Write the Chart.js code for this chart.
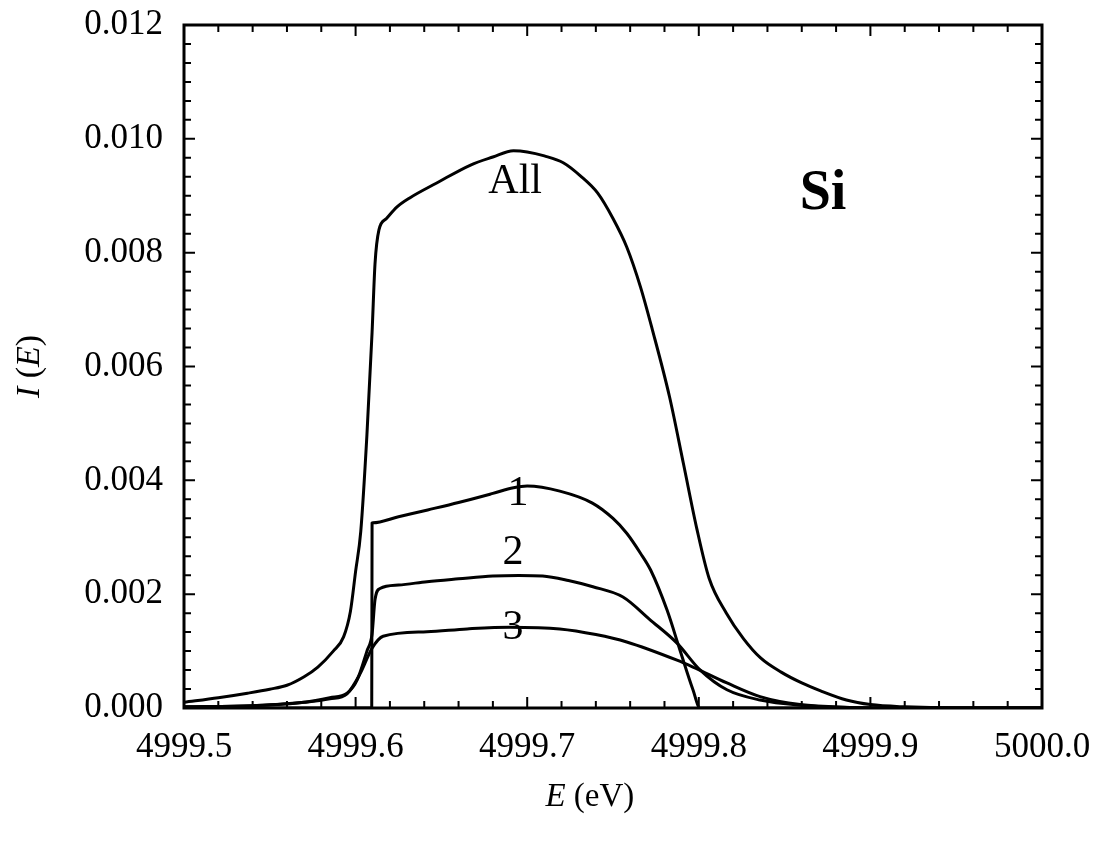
<!DOCTYPE html>
<html>
<head>
<meta charset="utf-8">
<script src="https://cdn.jsdelivr.net/npm/chart.js@4.4.1/dist/chart.umd.min.js"></script>
<style>
  html, body { margin: 0; padding: 0; background: #fff; }
  #wrap { width: 1098px; height: 843px; }
</style>
</head>
<body>
<div id="wrap"><canvas id="c"></canvas></div>
<script>
// tick labels
const X_MAJOR = [4999.5, 4999.6, 4999.7, 4999.8, 4999.9, 5000.0];
const X_MINOR_DIV = 5;
const Y_MAJOR = [0, 0.002, 0.004, 0.006, 0.008, 0.010, 0.012];
const Y_MINOR_DIV = 6;

// "All"
const allE = [4999.500, 4999.520, 4999.537, 4999.550, 4999.560, 4999.570, 4999.578, 4999.587, 4999.593, 4999.597,
  4999.600, 4999.603, 4999.6066, 4999.6096, 4999.6113, 4999.6136, 4999.618, 4999.624, 4999.632, 4999.647,
  4999.667, 4999.680, 4999.692, 4999.700, 4999.710, 4999.721, 4999.731, 4999.741, 4999.750, 4999.758,
  4999.766, 4999.773, 4999.783, 4999.791, 4999.799, 4999.806, 4999.816, 4999.826, 4999.836, 4999.848,
  4999.860, 4999.871, 4999.886, 4999.900, 4999.920, 4999.950, 5000.000];
const allI = [0.0001, 0.00018, 0.00026, 0.00033, 0.0004, 0.00055, 0.00072, 0.001, 0.00125, 0.0017,
  0.0024, 0.0031, 0.0048, 0.0066, 0.0078, 0.0084, 0.0086, 0.0088, 0.00897, 0.00922,
  0.00954, 0.00968, 0.00979, 0.00977, 0.0097, 0.00958, 0.00935, 0.00905, 0.0086, 0.0081,
  0.0074, 0.00664, 0.00546, 0.0043, 0.00313, 0.00228, 0.00167, 0.00122, 0.00088, 0.00063,
  0.00044, 0.0003, 0.00014, 0.00006, 0.00002, 0, 0];

// "1"
const oneE = [4999.500, 4999.6094, 4999.6096, 4999.6100, 4999.625, 4999.642, 4999.660, 4999.680, 4999.692, 4999.700,
  4999.719, 4999.738, 4999.750, 4999.758, 4999.766, 4999.772, 4999.7815, 4999.789, 4999.7966, 4999.8007, 5000.000];
const oneI = [0, 0, 0.00325, 0.003253, 0.00336, 0.00348, 0.00361, 0.00377, 0.00387, 0.0039,
  0.00381, 0.0036, 0.00333, 0.00307, 0.00272, 0.00242, 0.00172, 0.00102, 0.00032, 0, 0];

// "2"
const twoE = [4999.500, 4999.540, 4999.570, 4999.585, 4999.595, 4999.601, 4999.6066, 4999.6096, 4999.6113, 4999.6142,
  4999.625, 4999.6416, 4999.660, 4999.680, 4999.695, 4999.709, 4999.724, 4999.7383, 4999.7558, 4999.7716,
  4999.7873, 4999.8007, 4999.8164, 4999.8357, 4999.859, 4999.888, 4999.917, 5000.000];
const twoI = [0.00002, 0.00004, 0.0001, 0.00018, 0.00026, 0.0005, 0.001, 0.0013, 0.0019, 0.0021,
  0.00216, 0.00222, 0.00227, 0.00232, 0.00233, 0.00232, 0.00224, 0.00213, 0.00195, 0.00155,
  0.00114, 0.00067, 0.00032, 0.00014, 0.00005, 0.00001, 0, 0];

// "3"
const threeE = [4999.500, 4999.540, 4999.570, 4999.585, 4999.595, 4999.6026, 4999.6096, 4999.616, 4999.6416, 4999.665,
  4999.690, 4999.719, 4999.740, 4999.758, 4999.7873, 4999.7966, 4999.8164, 4999.8357, 4999.859, 4999.888,
  4999.917, 5000.000];
const threeI = [0.00002, 0.00004, 0.0001, 0.00016, 0.00025, 0.0006, 0.00105, 0.00126, 0.00134, 0.00139,
  0.00142, 0.00139, 0.00129, 0.00116, 0.00084, 0.00072, 0.00044, 0.0002, 0.00006, 0.00001,
  0, 0];

// in-plot labels: text, E, I
const curveLabels = [
  ['All', 4999.693, 0.00924],
  ['1', 4999.6946, 0.00376],
  ['2', 4999.6917, 0.00272],
  ['3', 4999.6917, 0.00140],
];

const SERIF = '"Liberation Serif", "DejaVu Serif", serif';

function pts(xs, ys) { return xs.map((x, i) => ({ x: x, y: ys[i] })); }

function withMinors(majors, div) {
  const out = [];
  majors.forEach((m, i) => {
    out.push({ value: m });
    if (i < majors.length - 1) {
      const step = (majors[i + 1] - m) / div;
      for (let k = 1; k < div; k++) out.push({ value: m + step * k });
    }
  });
  return out;
}

function isMajor(list, v) { return list.some(m => Math.abs(m - v) < 1e-9); }

function series(xs, ys) {
  return {
    data: pts(xs, ys),
    borderColor: '#000', borderWidth: 3,
    pointRadius: 0, fill: false,
    cubicInterpolationMode: 'monotone',
    borderJoinStyle: 'round',
  };
}

// mixed italic/upright text, centred on cx
function drawRuns(ctx, runs, size, cx, cy) {
  const fonts = runs.map(r => (r[1] ? 'italic ' : '') + size + 'px ' + SERIF);
  let w = 0;
  runs.forEach((r, i) => { ctx.font = fonts[i]; w += ctx.measureText(r[0]).width; });
  let x = cx - w / 2;
  runs.forEach((r, i) => {
    ctx.font = fonts[i];
    ctx.fillText(r[0], x, cy);
    x += ctx.measureText(r[0]).width;
  });
}

const decor = {
  id: 'decor',
  afterDraw(chart) {
    const { ctx, chartArea: a, scales: { x, y } } = chart;
    ctx.save();
    ctx.strokeStyle = '#000';
    ctx.lineWidth = 2;
    ctx.beginPath();
    x.ticks.forEach(t => {
      const px = x.getPixelForValue(t.value);
      const len = isMajor(X_MAJOR, t.value) ? 11 : 7;
      ctx.moveTo(px, a.bottom); ctx.lineTo(px, a.bottom - len);
      ctx.moveTo(px, a.top); ctx.lineTo(px, a.top + len);
    });
    y.ticks.forEach(t => {
      const py = y.getPixelForValue(t.value);
      const len = isMajor(Y_MAJOR, t.value) ? 11 : 7;
      ctx.moveTo(a.left, py); ctx.lineTo(a.left + len, py);
      ctx.moveTo(a.right, py); ctx.lineTo(a.right - len, py);
    });
    ctx.stroke();

    ctx.lineWidth = 3;
    ctx.strokeRect(a.left, a.top, a.right - a.left, a.bottom - a.top);

    ctx.fillStyle = '#000';
    ctx.textBaseline = 'middle';
    ctx.textAlign = 'left';
    curveLabels.forEach(l => {
      drawRuns(ctx, [[l[0], false]], 42, x.getPixelForValue(l[1]), y.getPixelForValue(l[2]));
    });
    ctx.font = 'bold 56px ' + SERIF;
    ctx.textAlign = 'center';
    ctx.fillText('Si', x.getPixelForValue(4999.8724), y.getPixelForValue(0.00903));

    // axis titles
    ctx.textAlign = 'left';
    drawRuns(ctx, [['E', true], [' (eV)', false]], 33, x.getPixelForValue(4999.7365), 797);
    ctx.translate(30, (a.top + a.bottom) / 2);
    ctx.rotate(-Math.PI / 2);
    drawRuns(ctx, [['I', true], [' (', false], ['E', true], [')', false]], 34, 0, 0);
    ctx.restore();
  }
};

new Chart(document.getElementById('c'), {
  type: 'line',
  data: {
    datasets: [
      series(allE, allI),
      series(oneE, oneI),
      series(twoE, twoI),
      series(threeE, threeI),
    ],
  },
  options: {
    responsive: true, maintainAspectRatio: false,
    animation: false,
    layout: { padding: { left: 0, right: 56, top: 25, bottom: 0 } },
    plugins: { legend: { display: false }, tooltip: { enabled: false } },
    scales: {
      x: {
        type: 'linear', min: 4999.5, max: 5000.0,
        afterBuildTicks: s => { s.ticks = withMinors(X_MAJOR, X_MINOR_DIV); },
        afterFit: s => { s.height = 135; s.paddingLeft = 0; s.paddingRight = 0; },
        grid: { display: false, drawTicks: false },
        border: { display: false },
        ticks: {
          autoSkip: false, maxRotation: 0, padding: 19, color: '#000',
          font: { family: SERIF, size: 35 },
          callback: v => isMajor(X_MAJOR, v) ? v.toFixed(1) : '',
        },
      },
      y: {
        type: 'linear', min: 0, max: 0.012,
        afterBuildTicks: s => { s.ticks = withMinors(Y_MAJOR, Y_MINOR_DIV); },
        afterFit: s => { s.width = 184; s.paddingTop = 0; s.paddingBottom = 0; },
        grid: { display: false, drawTicks: false },
        border: { display: false },
        ticks: {
          autoSkip: false, padding: 21, color: '#000',
          font: { family: SERIF, size: 35 },
          callback: v => isMajor(Y_MAJOR, v) ? v.toFixed(3) : '',
        },
      },
    },
  },
  plugins: [decor],
});
</script>
</body>
</html>
